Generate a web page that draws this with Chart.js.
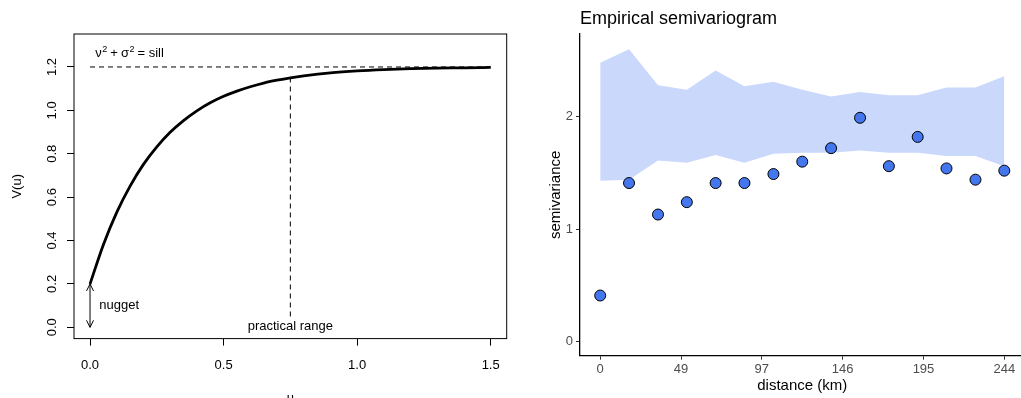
<!DOCTYPE html>
<html>
<head>
<meta charset="utf-8">
<script src="https://cdn.jsdelivr.net/npm/chart.js@4.4.1/dist/chart.umd.min.js"></script>
<style>
  html, body { margin: 0; padding: 0; background: #fff; overflow: hidden; }
  #left { position: absolute; left: 0; top: 0; width: 530px; height: 398px; }
  #right { position: absolute; left: 530px; top: 0; width: 501px; height: 398px; }
</style>
</head>
<body>
<div id="left"><canvas id="varioModel" width="530" height="398"></canvas></div>
<div id="right"><canvas id="varioEmp" width="501" height="398"></canvas></div>
<script>
// left panel - theoretical variogram curve
const uValues = [0, 0.05, 0.1, 0.15, 0.2, 0.25, 0.3, 0.35, 0.4, 0.45, 0.5, 0.55, 0.6, 0.65, 0.7, 0.75, 0.8, 0.9, 1.0, 1.1, 1.2, 1.3, 1.4, 1.5];
const vValues = [0.200, 0.381, 0.530, 0.651, 0.751, 0.832, 0.899, 0.953, 0.998, 1.035, 1.065, 1.089, 1.109, 1.126, 1.139, 1.150, 1.159, 1.173, 1.182, 1.188, 1.192, 1.195, 1.196, 1.198];
const sillLevel = 1.2;
const nuggetLevel = 0.2;
const practicalRange = 0.75;
const rangeLineEnds = [0.05, 1.15];
const uTicks = [0, 0.5, 1.0, 1.5];
const vTicks = [0, 0.2, 0.4, 0.6, 0.8, 1.0, 1.2];

// right panel - empirical semivariogram + envelope
const distances = [0, 17.4, 34.9, 52.3, 69.7, 87.1, 104.6, 122.0, 139.4, 156.9, 174.3, 191.7, 209.1, 226.6, 244];
const semivariance = [0.41, 1.41, 1.13, 1.24, 1.41, 1.41, 1.49, 1.60, 1.72, 1.99, 1.56, 1.82, 1.54, 1.44, 1.52];
const envelopeLower = [1.43, 1.44, 1.61, 1.59, 1.66, 1.59, 1.67, 1.68, 1.68, 1.70, 1.68, 1.68, 1.65, 1.65, 1.56];
const envelopeUpper = [2.48, 2.60, 2.28, 2.24, 2.41, 2.27, 2.31, 2.24, 2.18, 2.22, 2.19, 2.19, 2.26, 2.26, 2.36];
const distTicks = [0, 48.8, 97.6, 146.4, 195.2, 244];
const distTickLabels = ["0", "49", "97", "146", "195", "244"];
const semiTicks = [0, 1, 2];

const FONT = "'Liberation Sans', Arial, Helvetica, sans-serif";

function pts(xs, ys) {
  return xs.map((x, i) => ({ x: x, y: ys[i] }));
}

// box, rotated y labels, annotations for the R-style panel
const modelDecor = {
  id: "modelDecor",
  afterDraw(chart) {
    const ctx = chart.ctx;
    const a = chart.chartArea;
    const xs = chart.scales.x;
    const ys = chart.scales.y;
    ctx.save();
    ctx.strokeStyle = "#000";
    ctx.lineWidth = 1;
    ctx.strokeRect(a.left, a.top, a.right - a.left, a.bottom - a.top);

    ctx.fillStyle = "#000";
    ctx.font = "13px " + FONT;
    ctx.textAlign = "center";
    ctx.textBaseline = "middle";
    vTicks.forEach(v => {
      ctx.save();
      ctx.translate(52, ys.getPixelForValue(v));
      ctx.rotate(-Math.PI / 2);
      ctx.fillText(v.toFixed(1), 0, 0);
      ctx.restore();
    });

    // axis titles
    ctx.save();
    ctx.translate(17, (a.top + a.bottom) / 2);
    ctx.rotate(-Math.PI / 2);
    ctx.fillText("V(u)", 0, 0);
    ctx.restore();
    ctx.textBaseline = "alphabetic";
    ctx.fillText("u", (a.left + a.right) / 2, 402);

    // nugget arrow heads
    const x0 = xs.getPixelForValue(0);
    const yb = ys.getPixelForValue(0);
    const yt = ys.getPixelForValue(nuggetLevel);
    ctx.lineWidth = 1;
    ctx.beginPath();
    ctx.moveTo(x0 - 3.5, yt + 7);
    ctx.lineTo(x0, yt);
    ctx.lineTo(x0 + 3.5, yt + 7);
    ctx.moveTo(x0 - 3.5, yb - 7);
    ctx.lineTo(x0, yb);
    ctx.lineTo(x0 + 3.5, yb - 7);
    ctx.stroke();

    ctx.textAlign = "left";
    ctx.textBaseline = "middle";
    ctx.fillText("nugget", xs.getPixelForValue(0.035), ys.getPixelForValue(0.1));
    ctx.textAlign = "center";
    ctx.fillText("practical range", xs.getPixelForValue(practicalRange), ys.getPixelForValue(0.006));

    // nu^2 + sigma^2 = sill
    ctx.textAlign = "left";
    ctx.textBaseline = "alphabetic";
    let px = xs.getPixelForValue(0.02);
    const by = ys.getPixelForValue(1.245);
    const parts = [
      ["\u03bd", 13, 0, 0.5], ["2", 9, -5, 3], ["+", 13, 0, 3], ["\u03c3", 13, 0, 0.5], ["2", 9, -5, 3], ["= sill", 13, 0, 0]
    ];
    parts.forEach(p => {
      ctx.font = p[1] + "px " + FONT;
      ctx.fillText(p[0], px, by + p[2]);
      px += ctx.measureText(p[0]).width + p[3];
    });
    ctx.restore();
  }
};

new Chart(document.getElementById("varioModel"), {
  type: "line",
  data: {
    datasets: [
      {
        data: pts(uValues, vValues),
        borderColor: "#000",
        borderWidth: 2.8,
        pointRadius: 0,
        cubicInterpolationMode: "monotone",
        fill: false
      },
      {
        data: pts([0, 1.5], [sillLevel, sillLevel]),
        borderColor: "#000",
        borderWidth: 1,
        borderDash: [5, 4],
        pointRadius: 0,
        fill: false
      },
      {
        data: pts([practicalRange, practicalRange], rangeLineEnds),
        borderColor: "#000",
        borderWidth: 1,
        borderDash: [5, 4],
        pointRadius: 0,
        fill: false
      },
      {
        data: pts([0, 0], [0, nuggetLevel]),
        borderColor: "#000",
        borderWidth: 1,
        pointRadius: 0,
        fill: false
      }
    ]
  },
  options: {
    responsive: false,
    animation: false,
    devicePixelRatio: 1,
    layout: { padding: { top: 34, right: 23.3, left: 0, bottom: 0 } },
    plugins: { legend: { display: false }, tooltip: { enabled: false } },
    scales: {
      x: {
        type: "linear",
        min: -0.06,
        max: 1.56,
        afterBuildTicks: s => { s.ticks = uTicks.map(v => ({ value: v })); },
        afterFit: s => { s.height = 59.4; },
        grid: { drawOnChartArea: false, drawTicks: true, tickLength: 7, color: "#000" },
        border: { display: false },
        ticks: {
          color: "#000",
          font: { family: FONT, size: 13 },
          padding: 12,
          maxRotation: 0,
          callback: v => Number(v).toFixed(1)
        }
      },
      y: {
        type: "linear",
        min: -0.052,
        max: 1.352,
        afterBuildTicks: s => { s.ticks = vTicks.map(v => ({ value: v })); },
        afterFit: s => { s.width = 74; },
        grid: { drawOnChartArea: false, drawTicks: true, tickLength: 7, color: "#000" },
        border: { display: false },
        ticks: { display: false }
      }
    }
  },
  plugins: [modelDecor]
});

const empTitle = {
  id: "empTitle",
  afterDraw(chart) {
    const ctx = chart.ctx;
    ctx.save();
    ctx.fillStyle = "#000";
    ctx.font = "18px " + FONT;
    ctx.textAlign = "left";
    ctx.textBaseline = "alphabetic";
    ctx.fillText("Empirical semivariogram", chart.chartArea.left, 23.5);
    ctx.restore();
  }
};

// datasets are painted last-to-first, so the points come first to sit on top of the band
new Chart(document.getElementById("varioEmp"), {
  type: "line",
  data: {
    datasets: [
      {
        data: pts(distances, semivariance),
        showLine: false,
        pointRadius: 5.5,
        pointBackgroundColor: "#4477EE",
        pointBorderColor: "#000",
        pointBorderWidth: 1
      },
      {
        data: pts(distances, envelopeLower),
        borderColor: "rgba(0,0,0,0)",
        borderWidth: 0,
        pointRadius: 0,
        fill: false
      },
      {
        data: pts(distances, envelopeUpper),
        borderColor: "rgba(0,0,0,0)",
        backgroundColor: "#C9D8FB",
        borderWidth: 0,
        pointRadius: 0,
        fill: "-1"
      }
    ]
  },
  options: {
    responsive: false,
    animation: false,
    devicePixelRatio: 1,
    layout: { padding: { top: 34, right: 0, left: 0, bottom: 0 } },
    plugins: { legend: { display: false }, tooltip: { enabled: false } },
    scales: {
      x: {
        type: "linear",
        min: -12.2,
        max: 256.2,
        afterBuildTicks: s => { s.ticks = distTicks.map(v => ({ value: v })); },
        afterFit: s => { s.height = 42.3; },
        grid: { drawOnChartArea: false, drawTicks: true, tickLength: 4, color: "#333" },
        border: { display: true, color: "#000", width: 1.3 },
        ticks: {
          color: "#4D4D4D",
          font: { family: FONT, size: 13 },
          padding: 2,
          maxRotation: 0,
          callback: (v, i) => distTickLabels[i]
        },
        title: {
          display: true,
          text: "distance (km)",
          color: "#000",
          font: { family: FONT, size: 15 },
          padding: { top: 0, bottom: 3 }
        }
      },
      y: {
        type: "linear",
        min: -0.125,
        max: 2.735,
        afterBuildTicks: s => { s.ticks = semiTicks.map(v => ({ value: v })); },
        afterFit: s => { s.width = 50; },
        grid: { drawOnChartArea: false, drawTicks: true, tickLength: 4, color: "#333" },
        border: { display: true, color: "#000", width: 1.3 },
        ticks: {
          color: "#4D4D4D",
          font: { family: FONT, size: 13 },
          padding: 3,
          callback: v => String(v)
        },
        title: {
          display: true,
          text: "semivariance",
          color: "#000",
          font: { family: FONT, size: 15 },
          padding: { top: 17, bottom: 0 }
        }
      }
    }
  },
  plugins: [empTitle]
});
</script>
</body>
</html>
